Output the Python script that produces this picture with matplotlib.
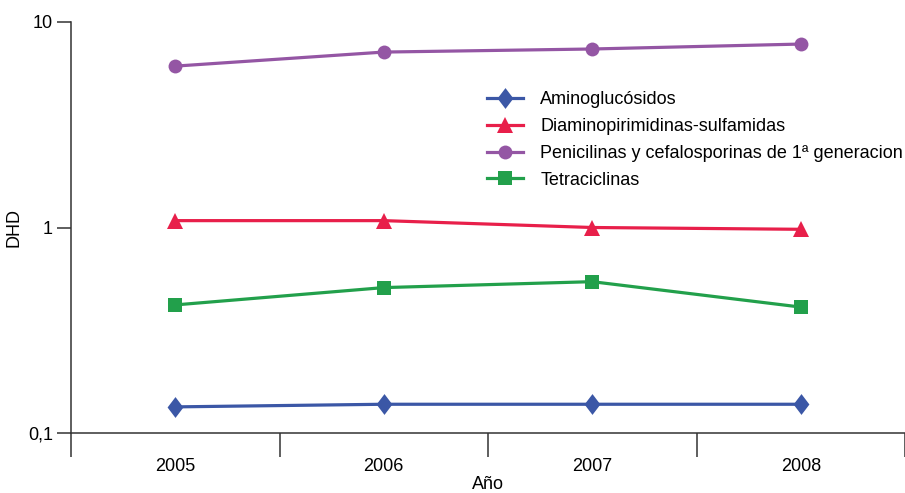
import matplotlib
matplotlib.use("Agg")
import matplotlib.pyplot as plt
import matplotlib.ticker as mticker

plt.rcParams['font.family'] = ['Liberation Sans', 'DejaVu Sans']

years = ['2005', '2006', '2007', '2008']
aminoglucosidos = [0.134, 0.138, 0.138, 0.138]
diaminopirimidinas = [1.08, 1.08, 1.00, 0.98]
penicilinas = [6.1, 7.14, 7.39, 7.81]
tetraciclinas = [0.42, 0.51, 0.545, 0.41]

labels = ['Aminoglucósidos', 'Diaminopirimidinas-sulfamidas',
          'Penicilinas y cefalosporinas de 1ª generacion', 'Tetraciclinas']
colors = ['#3b57a6', '#e81f4a', '#9456a4', '#22a04b']
diamond = [(0, 1), (0.76, 0), (0, -1), (-0.76, 0), (0, 1)]
markers = [diamond, '^', 'o', 's']
msizes = [15, 11, 10, 9.5]

fig = plt.figure(figsize=(9.05, 4.93), dpi=100)
ax = fig.add_axes([71 / 905, 1 - 433 / 493, 1 - 71 / 905, (433 - 22) / 493])

x = list(range(len(years)))
series = [aminoglucosidos, diaminopirimidinas, penicilinas, tetraciclinas]
for vals, lab, c, m, ms in zip(series, labels, colors, markers, msizes):
    ax.plot(x, vals, color=c, lw=2.3, marker=m, markersize=ms, label=lab,
            markeredgewidth=0)

ax.set_yscale('log')
ax.set_ylim(0.1, 10)
ax.set_xlim(-0.5, 3.5)
ax.yaxis.set_major_locator(mticker.FixedLocator([0.1, 1, 10]))
ax.yaxis.set_major_formatter(mticker.FixedFormatter(['0,1', '1', '10']))
ax.yaxis.set_minor_locator(mticker.NullLocator())

ax.set_xticks([-0.5, 0.5, 1.5, 2.5, 3.5])
ax.set_xticklabels([])
ax.set_xticks(x, minor=True)
ax.set_xticklabels(years, minor=True)
ax.tick_params(axis='x', which='major', length=17, width=1.1, color='#333333')
ax.tick_params(axis='x', which='minor', length=0, pad=18, labelsize=13)
ax.tick_params(axis='y', length=10, width=1.1, color='#333333', labelsize=13,
               pad=3)

for s in ['top', 'right']:
    ax.spines[s].set_visible(False)
for s in ['left', 'bottom']:
    ax.spines[s].set_linewidth(1.1)
    ax.spines[s].set_color('#333333')

ax.set_ylabel('DHD', fontsize=13, labelpad=4)
ax.set_xlabel('Año', fontsize=13, labelpad=1)

ax.legend(loc='upper left', bbox_to_anchor=(487 / 905, 1 - 91 / 493),
          bbox_transform=fig.transFigure, frameon=False, fontsize=13,
          handlelength=2.0, handletextpad=0.95, labelspacing=0.55,
          borderpad=0, borderaxespad=0)

fig.savefig('out.png', dpi=100)
